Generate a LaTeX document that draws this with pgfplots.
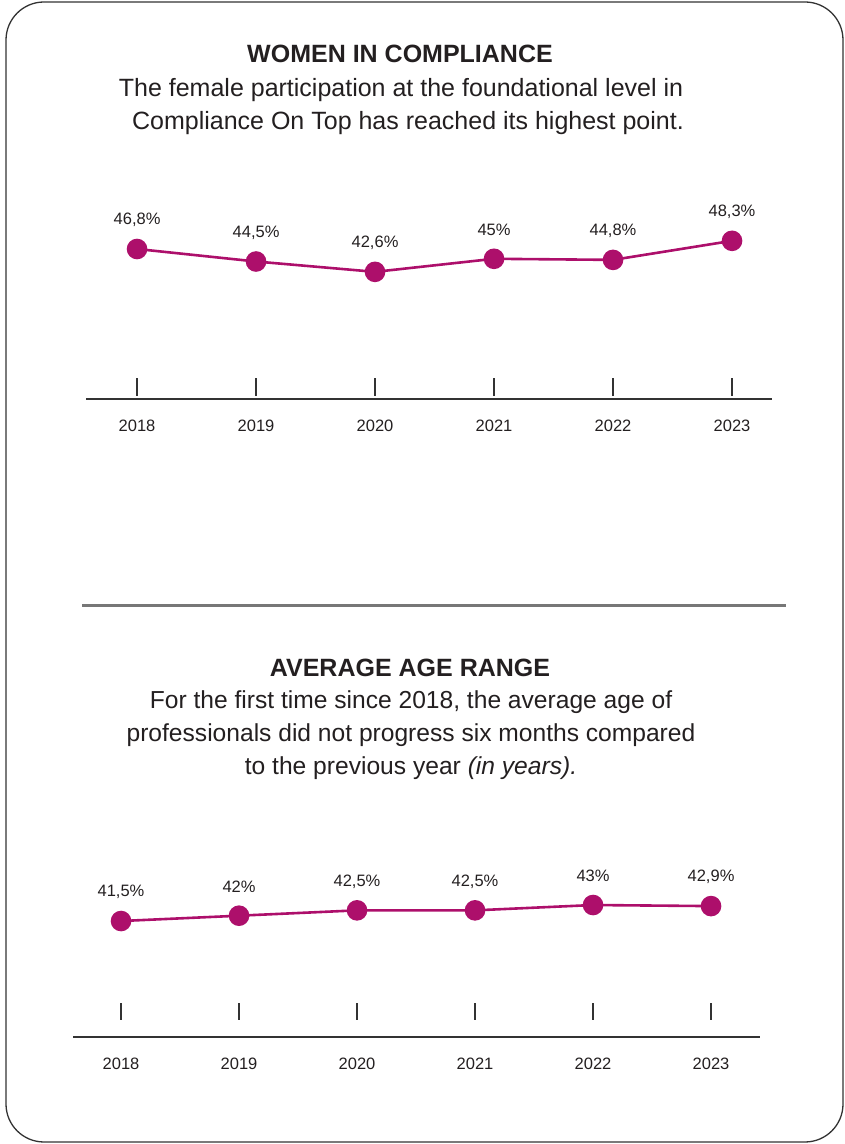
\documentclass[border=0pt]{standalone}
\usepackage{fontspec}
\setmainfont{Liberation Sans}
\usepackage{pgfplots}
\pgfplotsset{compat=1.18}
\usepackage{pgfplotstable}
\definecolor{mag}{HTML}{AD0F6B}
\definecolor{txt}{HTML}{231F20}
\definecolor{axc}{HTML}{333333}
\definecolor{sepc}{HTML}{777777}

\pgfplotstableread{
year val label
2018 46.8 {46,8\%}
2019 44.5 {44,5\%}
2020 42.6 {42,6\%}
2021 45.0 {45\%}
2022 44.8 {44,8\%}
2023 48.3 {48,3\%}
}\women

\pgfplotstableread{
year val label
2018 41.5 {41,5\%}
2019 42.0 {42\%}
2020 42.5 {42,5\%}
2021 42.5 {42,5\%}
2022 43.0 {43\%}
2023 42.9 {42,9\%}
}\age

\pgfplotsset{
  mystyle/.style={
    scale only axis, clip=false,
    hide y axis, axis x line*=bottom,
    x axis line style={axc, line width=1.6pt, -},
    xtick={2018,2019,2020,2021,2022,2023},
    xticklabels={2018,2019,2020,2021,2022,2023},
    x tick label style={font=\fontsize{16.5}{16.5}\selectfont, text=txt, yshift=-17pt},
    xtick align=inside,
    every tick/.style={axc, line width=1.1pt},
    nodes near coords, point meta=explicit symbolic,
    every node near coord/.style={anchor=center, yshift=29pt, font=\fontsize{16.5}{16.5}\selectfont, text=txt},
  },
  myline/.style={mag, line width=2.6pt, mark=*, mark size=9pt, mark options={fill=mag, draw=mag}},
}

\begin{document}
\begin{tikzpicture}[x=1pt,y=1pt]
\useasboundingbox (0,0) rectangle (845,1144);
\draw[axc, line width=1.3pt, rounded corners=38pt] (6,2) rectangle (843,1142);
\draw[sepc, line width=3pt] (82,538) -- (786,538);

% top titles
\node[anchor=base, font=\bfseries\fontsize{25}{30}\selectfont, text=txt] at (400,1081) {WOMEN IN COMPLIANCE};
\node[anchor=base, font=\fontsize{25}{30}\selectfont, text=txt] at (401,1047) {The female participation at the foundational level in};
\node[anchor=base, font=\fontsize{25}{30}\selectfont, text=txt] at (408,1014) {Compliance On Top has reached its highest point.};

% bottom titles
\node[anchor=base, font=\bfseries\fontsize{25}{30}\selectfont, text=txt] at (410,467) {AVERAGE AGE RANGE};
\node[anchor=base, font=\fontsize{24.6}{30}\selectfont, text=txt] at (411,435) {For the first time since 2018, the average age of};
\node[anchor=base, font=\fontsize{24.6}{30}\selectfont, text=txt] at (411,402) {professionals did not progress six months compared};
\node[anchor=base, font=\fontsize{24.6}{30}\selectfont, text=txt] at (411,369) {to the previous year \textit{(in years).}};

\begin{axis}[mystyle,
  at={(86pt,745pt)}, anchor=south west,
  width=686pt, height=199pt,
  xmin=2017.571, xmax=2023.336, ymin=19.25, ymax=55.8,
  major tick length=18pt,
  every tick/.append style={yshift=3pt},
]
\addplot[myline] table[x=year,y=val,meta=label]{\women};
\end{axis}

\begin{axis}[mystyle,
  at={(73pt,107pt)}, anchor=south west,
  width=687pt, height=177pt,
  xmin=2017.593, xmax=2023.415, ymin=30.63, ymax=47.22,
  major tick length=17pt,
  every tick/.append style={yshift=17pt},
]
\addplot[myline] table[x=year,y=val,meta=label]{\age};
\end{axis}
\end{tikzpicture}
\end{document}
